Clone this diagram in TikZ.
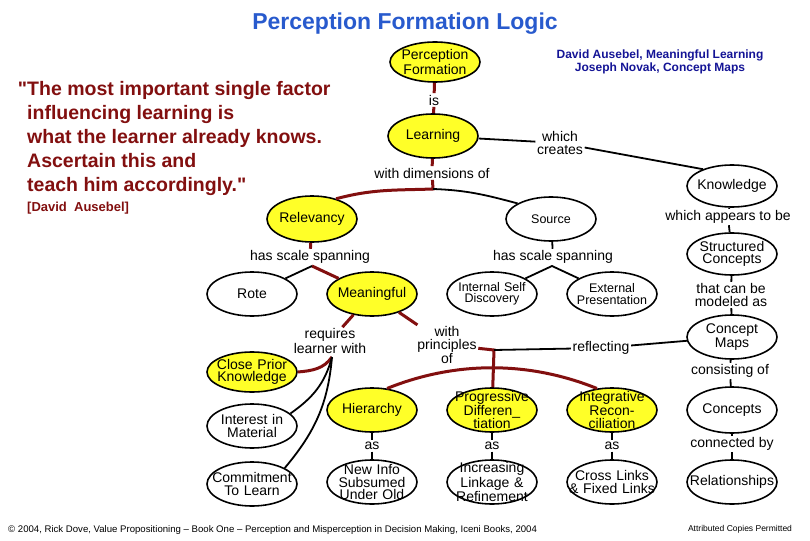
\documentclass[tikz,border=0pt]{standalone}
\usepackage{fontspec}
\setmainfont{Liberation Sans}
\newfontfamily\quotefamily[Ligatures=TeXOff]{Liberation Sans}
\usetikzlibrary{shapes.geometric}

\definecolor{mapyellow}{RGB}{255,255,40}
\definecolor{mapred}{RGB}{130,15,15}
\definecolor{titleblue}{RGB}{40,90,205}
\definecolor{refblue}{RGB}{20,20,150}

\newcommand{\mapfont}{\fontsize{14}{12.5}\selectfont}
\newcommand{\mapsmall}{\fontsize{12.5}{11.5}\selectfont}

\begin{document}
\begin{tikzpicture}[
    x=1pt, y=-1pt,
    node distance=120pt,
    concept/.style={ellipse, draw, line width=1.6pt, fill=white, text width=88pt, align=center, inner xsep=-20pt, inner ysep=-20pt, minimum width=90pt, minimum height=44pt, font=\mapfont},
    keyconcept/.style={concept, fill=mapyellow},
    linklabel/.style={align=center, inner sep=1.5pt, font=\mapfont},
    redlink/.style={draw=mapred, line width=3pt},
    blacklink/.style={draw=black, line width=1.8pt}
]
    \useasboundingbox (0,0) rectangle (810,540);

    % headings and quote
    \node [text=titleblue, font=\bfseries\fontsize{23}{26}\selectfont] (title) at (405,24) {Perception Formation Logic};
    \node [anchor=north west, align=left, inner sep=0pt, text=mapred, font=\quotefamily\bfseries\fontsize{19.5}{24}\selectfont] (quote) at (27,81)
        {\llap{"}The most important single factor\\influencing learning is\\what the learner already knows.\\Ascertain this and\\teach him accordingly."};
    \node [anchor=north west, inner sep=0pt, text=mapred, font=\bfseries\fontsize{13}{15}\selectfont] (attribution) at (27,202) {[David\ \ Ausebel]};
    \node [align=center, text=refblue, font=\bfseries\fontsize{12}{12.5}\selectfont] (refnote) at (660,62) {David Ausebel, Meaningful Learning\\Joseph Novak, Concept Maps};
    \node [anchor=west, inner sep=0pt, font=\fontsize{9.6}{11}\selectfont] (copyright) at (8,530) {© 2004, Rick Dove, Value Propositioning -- Book One -- Perception and Misperception in Decision Making, Iceni Books, 2004};
    \node [font=\fontsize{8.5}{10}\selectfont] (permission) at (740,529) {Attributed Copies Permitted};

    % concepts
    \node [keyconcept, minimum height=40pt] (perception) at (435,62) {Perception\\Formation};
    \node [keyconcept] (learning) at (433,136) {Learning};
    \node [concept, minimum height=42pt] (knowledge) at (732,186) {Knowledge};
    \node [keyconcept, minimum height=46pt] (relevancy) at (312,219) {Relevancy};
    \node [concept, font=\mapsmall] (source) at (551,219) {Source};
    \node [concept, minimum height=42pt] (structured) at (732,254) {Structured\\Concepts};
    \node [concept] (rote) at (252,294) {Rote};
    \node [keyconcept, right of=rote] (meaningful) {Meaningful};
    \node [concept, right of=meaningful, font=\mapsmall] (internal) {Internal Self\\Discovery};
    \node [concept, right of=internal, font=\mapsmall] (external) {External\\Presentation};
    \node [concept] (conceptmaps) at (732,337) {Concept\\Maps};
    \node [keyconcept, minimum height=40pt] (closeprior) at (252,372) {Close Prior\\Knowledge};
    \node [concept] (interest) at (252,426) {Interest in\\Material};
    \node [concept] (commitment) at (252,484) {Commitment\\To Learn};
    \node [keyconcept] (hierarchy) at (372,410) {Hierarchy};
    \node [keyconcept, right of=hierarchy] (progressive) {Progressive\\Differen\_\\tiation};
    \node [keyconcept, right of=progressive] (integrative) {Integrative\\Recon-\\ciliation};
    \node [concept, right of=integrative, minimum height=46pt] (concepts) {Concepts};
    \node [concept] (newinfo) at (372,482) {New Info\\Subsumed\\Under Old};
    \node [concept, right of=newinfo] (linkage) {Increasing\\Linkage \&\\Refinement};
    \node [concept, right of=linkage] (crosslinks) {Cross Links\\\& Fixed Links};
    \node [concept, right of=crosslinks] (relationships) {Relationships};

    % link labels
    \node [linklabel] (is) at (434,100) {is};
    \node [linklabel] (dimensions) at (432,173) {with dimensions of};
    \node [linklabel] (creates) at (560,143) {which\\creates};
    \node [linklabel] (appears) at (728,217) {which appears to be};
    \node [linklabel] (scaleleft) at (310,257) {has scale spanning};
    \node [linklabel] (scaleright) at (553,257) {has scale spanning};
    \node [linklabel] (modeled) at (731,295) {that can be\\modeled as};
    \node [linklabel] (requires) at (330,341) {requires\\learner with};
    \node [linklabel] (principles) at (447,345) {with\\principles\\of};
    \node [linklabel] (reflecting) at (601,348) {reflecting};
    \node [linklabel] (consisting) at (730,371) {consisting of};
    \node [linklabel] (as-hier) at (372,446) {as};
    \node [linklabel] (as-prog) at (492,446) {as};
    \node [linklabel] (as-integ) at (612,446) {as};
    \node [linklabel] (connected) at (732,444) {connected by};

    \coordinate (dimjoin) at (433,189);
    \coordinate (scalejoinL) at (312,266);
    \coordinate (scalejoinR) at (552,266);
    \coordinate (reqjoin) at (332,357);
    \coordinate (refjoin) at (494,350);

    % connectors
    \draw [redlink] (perception) -- (is) -- (learning);
    \draw [redlink] (learning) -- (dimensions) -- (dimjoin) to[out=182, in=15] (relevancy.40);
    \draw [blacklink] (dimjoin) to[out=-2, in=165] (source.155);
    \draw [blacklink] (learning) -- (creates) -- (knowledge.150);
    \draw [blacklink] (knowledge) -- (appears) -- (structured);
    \draw [blacklink] (structured) -- (modeled) -- (conceptmaps);
    \draw [blacklink] (conceptmaps) -- (consisting) -- (concepts);
    \draw [blacklink] (concepts) -- (connected) -- (relationships);
    \draw [redlink] (relevancy) -- (scaleleft);
    \draw [redlink] (scalejoinL) -- (meaningful);
    \draw [blacklink] (scalejoinL) -- (rote);
    \draw [blacklink] (source) -- (scaleright);
    \draw [blacklink] (internal) -- (scalejoinR) -- (external);
    \draw [redlink] (meaningful) -- (requires);
    \draw [redlink] (reqjoin) to[out=235, in=5] (closeprior.east);
    \draw [blacklink] (reqjoin) to[out=255, in=35] (interest.18);
    \draw [blacklink] (reqjoin) to[out=265, in=50] (commitment.26);
    \draw [redlink] (meaningful) -- (principles);
    \draw [redlink] (principles) -- (refjoin) -- (progressive);
    \draw [blacklink] (refjoin) -- (reflecting) -- (conceptmaps);
    \draw [redlink] (hierarchy.55) to[out=22, in=158, looseness=0.9] (integrative.125);
    \draw [blacklink] (hierarchy) -- (as-hier) -- (newinfo);
    \draw [blacklink] (progressive) -- (as-prog) -- (linkage);
    \draw [blacklink] (integrative) -- (as-integ) -- (crosslinks);
\end{tikzpicture}
\end{document}
